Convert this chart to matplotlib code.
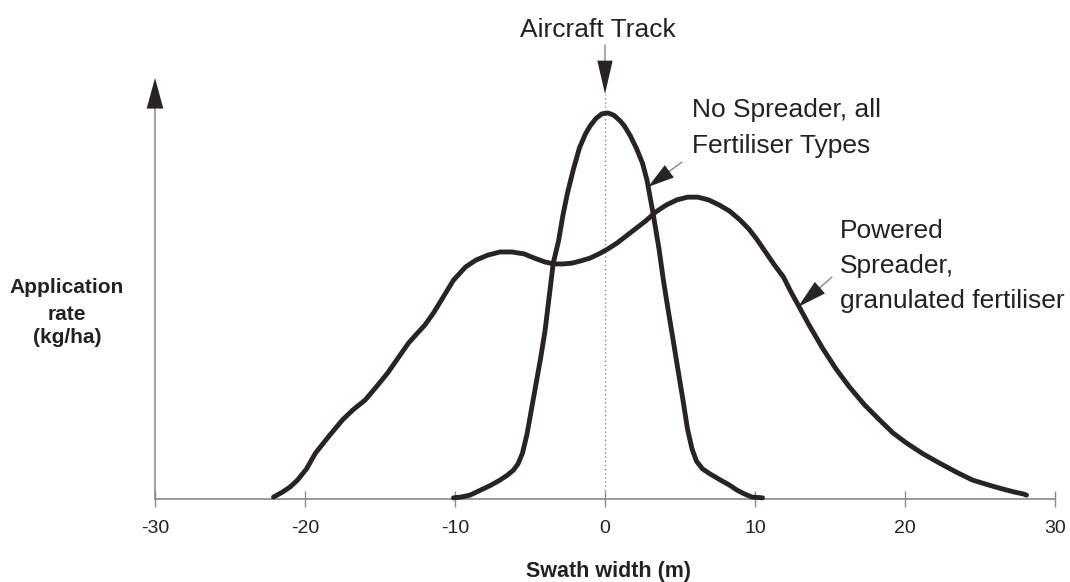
import matplotlib
matplotlib.use("Agg")
import matplotlib.pyplot as plt

# ---- data (y in relative units, peak = 100) ----
no_spreader_x = [-10.1, -9.6, -9.0, -8.3, -7.6, -7.0, -6.5, -6.1, -5.8, -5.5, -5.2, -4.9,
                 -4.6, -4.3, -4.0, -3.7, -3.45, -3.1, -2.8, -2.5, -2.1, -1.7, -1.3, -1.0,
                 -0.6, -0.2, 0.2, 0.6, 1.0, 1.3, 1.7, 2.1, 2.5, 2.8, 3.2, 3.6, 3.9, 4.2,
                 4.5, 4.8, 5.2, 5.5, 5.8, 6.1, 6.5, 7.0, 7.7, 8.3, 8.8, 9.3, 9.8, 10.5]
no_spreader_y = [0.3, 0.5, 1.0, 2.3, 3.6, 4.9, 6.2, 7.5, 9.1, 11.9, 16.8, 23.3,
                 29.8, 36.3, 43.5, 53.1, 61.1, 66.8, 73.6, 79.3, 85.5, 91.0, 94.6, 96.6,
                 98.6, 99.8, 100.0, 99.4, 98.0, 96.6, 94.0, 90.8, 87.0, 82.6, 74.1, 64.8, 56.5, 49.2,
                 42.2, 35.0, 25.6, 18.1, 13.0, 9.8, 7.8, 6.5, 4.9, 3.6, 2.3, 1.3, 0.5, 0.3]

powered_x = [-22.1, -21.5, -21.0, -20.5, -19.9, -19.3, -18.4, -17.5, -16.8, -16.0, -15.3,
             -14.5, -13.8, -13.1, -12.5, -12.0, -11.4, -10.9, -10.1, -9.3, -8.6, -7.8,
             -7.0, -6.2, -5.4, -4.7, -4.0, -3.4, -2.8, -2.2, -1.6, -1.0, -0.4, 0.2, 0.8,
             1.4, 2.0, 2.7, 3.4, 4.1, 4.8, 5.5, 6.2, 6.9, 7.6, 8.3, 9.0, 9.6, 10.1, 10.7,
             11.3, 11.9, 12.4, 12.8, 13.6, 14.5, 15.4, 16.3, 17.3, 18.3, 19.2, 20.1, 21.2,
             22.3, 23.4, 24.5, 25.6, 26.5, 27.3, 27.9, 28.1]
powered_y = [0.5, 1.8, 3.1, 4.9, 7.8, 11.9, 16.3, 20.5, 23.1, 25.6, 28.8,
             32.6, 36.5, 40.4, 43.0, 45.1, 48.4, 51.6, 56.7, 60.1, 61.9, 63.2,
             64.0, 64.0, 63.5, 62.4, 61.4, 60.9, 60.9, 61.1, 61.7, 62.4, 63.5, 64.8, 66.3,
             68.1, 69.9, 72.0, 74.4, 76.2, 77.5, 78.2, 78.2, 77.5, 76.2, 74.6, 72.3, 69.9, 67.4, 64.0,
             60.6, 57.5, 53.6, 50.8, 45.1, 39.1, 33.7, 29.0, 24.4, 20.5, 17.1, 14.5, 11.7,
             9.3, 7.0, 4.9, 3.6, 2.6, 1.8, 1.3, 1.0]

x_ticks = [-30, -20, -10, 0, 10, 20, 30]
x_tick_labels = ["-30", "-20", "-10", "0", "10", "20", "30"]

# ---- layout ----
W, H = 1070, 582
FONT = "Liberation Sans"
INK = "#2a2324"
GREY = "#8a8a8a"
PX_PER_UNIT = 3.86


def P(px, py):
    """pixel (from top-left) -> figure fraction"""
    return (px / W, 1 - py / H)


fig = plt.figure(figsize=(W / 100, H / 100), dpi=100)
fig.patch.set_facecolor("white")
ax = fig.add_axes([155 / W, (H - 499) / H, 900 / W, 421 / H])
ymax = 421 / PX_PER_UNIT
ax.set_xlim(-30, 30)
ax.set_ylim(0, ymax)
for name, sp in ax.spines.items():
    sp.set_visible(False)
ax.spines["bottom"].set_visible(True)
ax.spines["bottom"].set_color(GREY)
ax.spines["bottom"].set_linewidth(1.2)
ax.set_yticks([])
ax.set_xticks(x_ticks)
ax.set_xticklabels(x_tick_labels, fontsize=14, family=FONT, color="#222222")
ax.tick_params(axis="x", direction="inout", length=12, width=1, color=GREY, pad=9)

# curves
for xs, ys in ((no_spreader_x, no_spreader_y), (powered_x, powered_y)):
    ax.plot(xs, ys, color=INK, lw=3.5, solid_capstyle="round",
            solid_joinstyle="round", clip_on=False, zorder=3)

# aircraft track dotted line
track_top = (499 - 94) / PX_PER_UNIT
ax.plot([0, 0], [0, track_top], ls=(0, (1, 2)), color="#888888", lw=1, zorder=1)


def arrow(start, tip, coords, head_len=2.1, head_w=0.8, line_color=GREY, line_w=1.0):
    # thin grey shaft
    ax.annotate("", xy=tip, xytext=start, xycoords=coords, textcoords=coords,
                annotation_clip=False,
                arrowprops=dict(arrowstyle="-", color=line_color, lw=line_w,
                                shrinkA=0, shrinkB=head_len * 10 * 0.9))
    # solid dark head
    ax.annotate("", xy=tip, xytext=start, xycoords=coords, textcoords=coords,
                annotation_clip=False,
                arrowprops=dict(arrowstyle=f"-|>,head_length={head_len},head_width={head_w}",
                                mutation_scale=10, lw=0.01, ec=INK, fc=INK,
                                shrinkA=0, shrinkB=0))


# y axis with arrow
arrow((-30, 0), (-30, ymax), "data", head_len=2.2, head_w=0.6, line_w=1.1)
# aircraft track arrow
arrow((0, (499 - 45) / PX_PER_UNIT), (0, track_top), "data", head_len=2.4, head_w=0.55)
# annotation arrows
arrow(P(682, 162), P(648, 187), "figure fraction", head_len=1.9, head_w=0.55)
arrow(P(832, 277), P(798, 307), "figure fraction", head_len=2.1, head_w=0.55)

# texts
TXT = dict(family=FONT, color="#222222")
FS = 19
fig.text(*P(598, 37), "Aircraft Track", fontsize=FS, ha="center", va="baseline", **TXT)
fig.text(*P(692, 117), "No Spreader, all", fontsize=FS, ha="left", va="baseline", **TXT)
fig.text(*P(692, 153), "Fertiliser Types", fontsize=FS, ha="left", va="baseline", **TXT)
fig.text(*P(840, 238), "Powered", fontsize=FS, ha="left", va="baseline", **TXT)
fig.text(*P(840, 273), "Spreader,", fontsize=FS, ha="left", va="baseline", **TXT)
fig.text(*P(840, 308), "granulated fertiliser", fontsize=FS, ha="left", va="baseline", **TXT)

fig.text(*P(67, 293), "Application", fontsize=15, fontweight="bold", ha="center", va="baseline", **TXT)
fig.text(*P(67, 320), "rate", fontsize=15, fontweight="bold", ha="center", va="baseline", **TXT)
fig.text(*P(67, 343), "(kg/ha)", fontsize=15, fontweight="bold", ha="center", va="baseline", **TXT)
fig.text(*P(608, 577), "Swath width (m)", fontsize=15.5, fontweight="bold", ha="center", va="baseline", **TXT)

fig.savefig("out.png", dpi=100, facecolor="white")
